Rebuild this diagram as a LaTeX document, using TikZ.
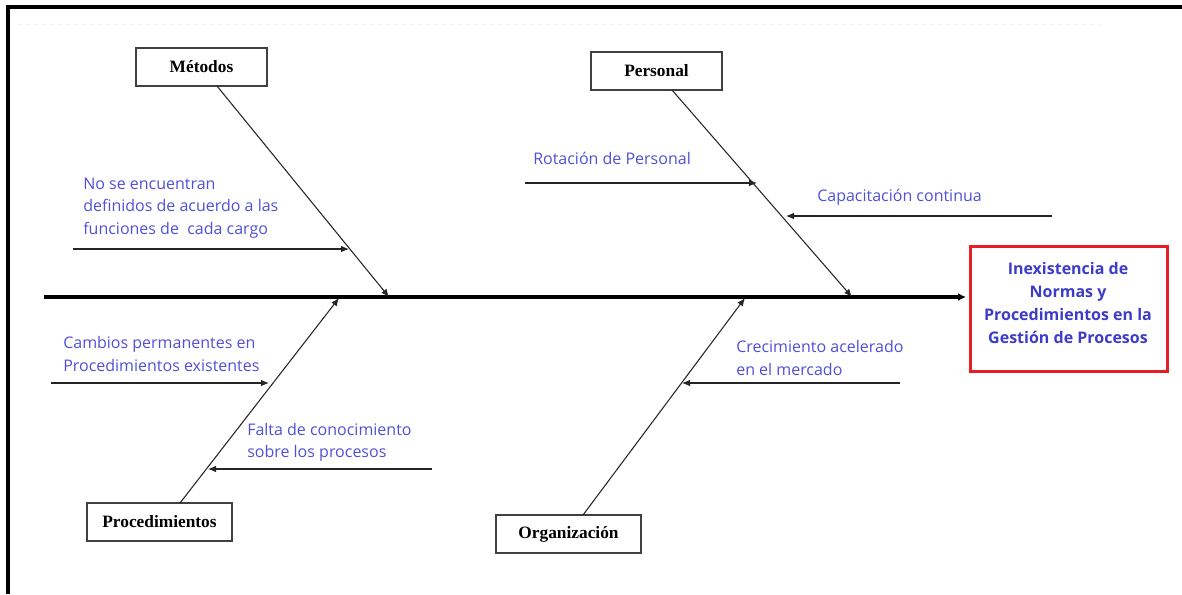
\documentclass[tikz,border=0pt]{standalone}
\usepackage{fontspec}
\setmainfont{Open Sans}
\newfontfamily\boxfont{Liberation Serif}
\usetikzlibrary{arrows.meta}
\definecolor{lblc}{RGB}{80,80,215}
\definecolor{ttlc}{RGB}{60,60,200}
\definecolor{effred}{RGB}{230,30,40}
\begin{document}
\begin{tikzpicture}[x=0.75pt,y=-0.75pt,
  causebox/.style={draw=black!75, line width=1pt, fill=white, inner sep=0pt,
    minimum height=28.5pt, font=\boxfont\bfseries\fontsize{13}{15}\selectfont},
  lbl/.style={font=\fontsize{12}{16.9}\selectfont, text=lblc, align=left, anchor=west, inner sep=0pt},
  bone/.style={draw=black!85, line width=0.8pt, -{Latex[length=6pt,width=5pt]}},
  sub/.style={draw=black!85, line width=0.8pt, -{Latex[length=6pt,width=5pt]}},
  spine/.style={draw=black, line width=2.3pt, -{Latex[length=6pt,width=6pt]}},
  effbox/.style={draw=effred, line width=2.2pt, minimum width=148pt, minimum height=94pt, inner sep=0pt},
  efftext/.style={font=\bfseries\fontsize{12}{17.25}\selectfont, text=ttlc, align=center, inner sep=0pt}
]
\useasboundingbox (0,0) rectangle (1182,594);
% frame
\coordinate (fr0) at (8,594);
\coordinate (fr1) at (8,7);
\coordinate (fr2) at (1182,7);
\draw[line width=3pt, line join=miter] (fr0) -- (fr1) -- (fr2);
\coordinate (fd0) at (18,24);
\coordinate (fd1) at (1100,24);
\draw[gray!12, line width=0.6pt, dashed] (fd0) -- (fd1);

% spine and effect
\node[effbox] (eff) at (1069,309) {};
\node[efftext] (efftxt) at (1068,302.5) {Inexistencia de\\Normas y\\Procedimientos en la\\Gestión de Procesos};
\coordinate (sp0) at (44,297);
\coordinate (sp1) at (966,297);
\draw[spine] (sp0) -- (sp1);

% cause boxes
\node[causebox, minimum width=98.25pt] (met) at (201.5,67) {Métodos};
\node[causebox, minimum width=98.25pt] (per) at (656.5,71) {Personal};
\node[causebox, minimum width=108.75pt] (pro) at (159.5,522) {Procedimientos};
\node[causebox, minimum width=108.75pt] (org) at (568.5,534) {Organización};

% bones
\coordinate (m0) at (217,86);   \coordinate (m1) at (389,297);
\coordinate (p0) at (672,90);   \coordinate (p1) at (852,297);
\coordinate (q0) at (180,503);  \coordinate (q1) at (339,298);
\coordinate (o0) at (583,515);  \coordinate (o1) at (745,298);
\draw[bone] (m0) -- (m1);
\draw[bone] (p0) -- (p1);
\draw[bone] (q0) -- (q1);
\draw[bone] (o0) -- (o1);

% sub-causes
\coordinate (a0) at (73,249);  \coordinate (a1) at (349,249);
\coordinate (b0) at (525,183); \coordinate (b1) at (757,183);
\coordinate (c0) at (1052,216);\coordinate (c1) at (786,216);
\coordinate (d0) at (51,383);  \coordinate (d1) at (269,383);
\coordinate (e0) at (432,469); \coordinate (e1) at (208,469);
\coordinate (f0) at (900,383); \coordinate (f1) at (682,383);
\draw[sub] (a0) -- (a1);
\draw[sub] (b0) -- (b1);
\draw[sub] (c0) -- (c1);
\draw[sub] (d0) -- (d1);
\draw[sub] (e0) -- (e1);
\draw[sub] (f0) -- (f1);

\node[lbl] (ta) at (83,208) {No se encuentran\\definidos de acuerdo a las\\funciones de~ cada cargo};
\node[lbl] (tb) at (533,158) {Rotación de Personal};
\node[lbl] (tc) at (817,197) {Capacitación continua};
\node[lbl] (td) at (63,354) {Cambios permanentes en\\Procedimientos existentes};
\node[lbl] (te) at (247,442.5) {Falta de conocimiento\\sobre los procesos};
\node[lbl] (tf) at (736,358) {Crecimiento acelerado\\en el mercado};
\end{tikzpicture}
\end{document}
